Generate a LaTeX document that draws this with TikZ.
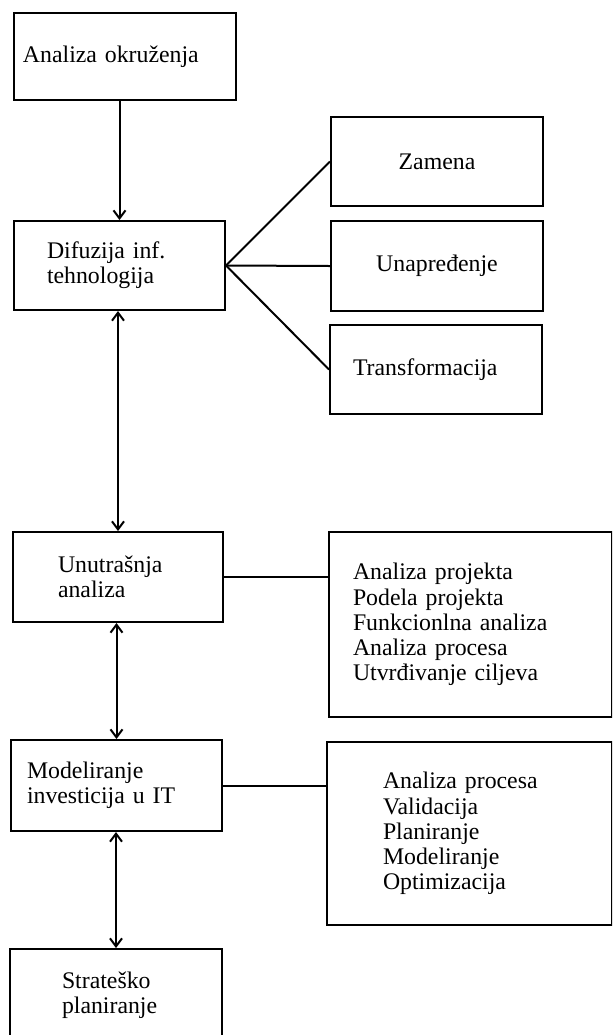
\documentclass[tikz,border=0pt]{standalone}
\usepackage{fontspec}
\setmainfont{Liberation Serif}
\usetikzlibrary{arrows.meta}

\begin{document}
\begin{tikzpicture}[x=0.5pt,y=-0.5pt,
  box/.style={draw, line width=1pt, inner sep=0pt, align=left,
    font=\fontsize{11.9pt}{12.6pt}\selectfont},
  side/.style={box, align=center, minimum width=106pt, minimum height=44.5pt},
  link/.style={line width=1pt},
  >={Straight Barb[length=4pt,width=6pt]}]
\path[use as bounding box, clip] (0,0) rectangle (612,1035);
% left column
\draw(125,56.5) node[box, minimum width=111pt, minimum height=43.5pt, text width=102pt] (okr) {Analiza okruženja};
\draw(119.5,265.5) node[box, minimum width=105.5pt, minimum height=44.5pt, text width=72.5pt] (dif) {Difuzija inf.\\tehnologija};
\draw(118,577) node[box, minimum width=105pt, minimum height=45pt, text width=60pt] (unu) {Unutrašnja\\analiza};
\draw(116.5,785.5) node[box, minimum width=105.5pt, minimum height=45.5pt, text width=89.5pt] (mod) {Modeliranje\\investicija u IT};
\draw(116,995) node[box, minimum width=106pt, minimum height=46pt, text width=54pt] (str) {Strateško\\planiranje};
% right column
\draw(437,161.5) node[side] (zam) {Zamena};
\draw(437,266) node[side, minimum height=45pt] (una) {Unapređenje};
\draw(436,369.5) node[side, align=left, text width=83pt] (tra) {Transformacija};
\draw(470.5,624.5) node[box, minimum width=141.5pt, minimum height=92.5pt, text width=117.5pt] (ana) {Analiza projekta\\Podela projekta\\Funkcionlna analiza\\Analiza procesa\\Utvrđivanje ciljeva};
\draw(469.5,833.5) node[box, minimum width=142.5pt, minimum height=91.5pt, text width=86.5pt] (val) {Analiza procesa\\Validacija\\Planiranje\\Modeliranje\\Optimizacija};
% connectors
\draw[link,->] (dif.north |- okr.south) -- (dif.north);
\draw[link,<->] (unu.north |- dif.south) -- (unu.north);
\draw[link,<->] (mod.north |- unu.south) -- (mod.north);
\draw[link,<->] (str.north |- mod.south) -- (str.north);
\draw[link] (zam.west) -- (dif.east) -- (tra.west);
\draw[link] (dif.east) -- (una.west);
\draw[link] (unu.east) -- (ana.west |- unu.east);
\draw[link] (mod.east) -- (val.west |- mod.east);
\end{tikzpicture}
\end{document}
